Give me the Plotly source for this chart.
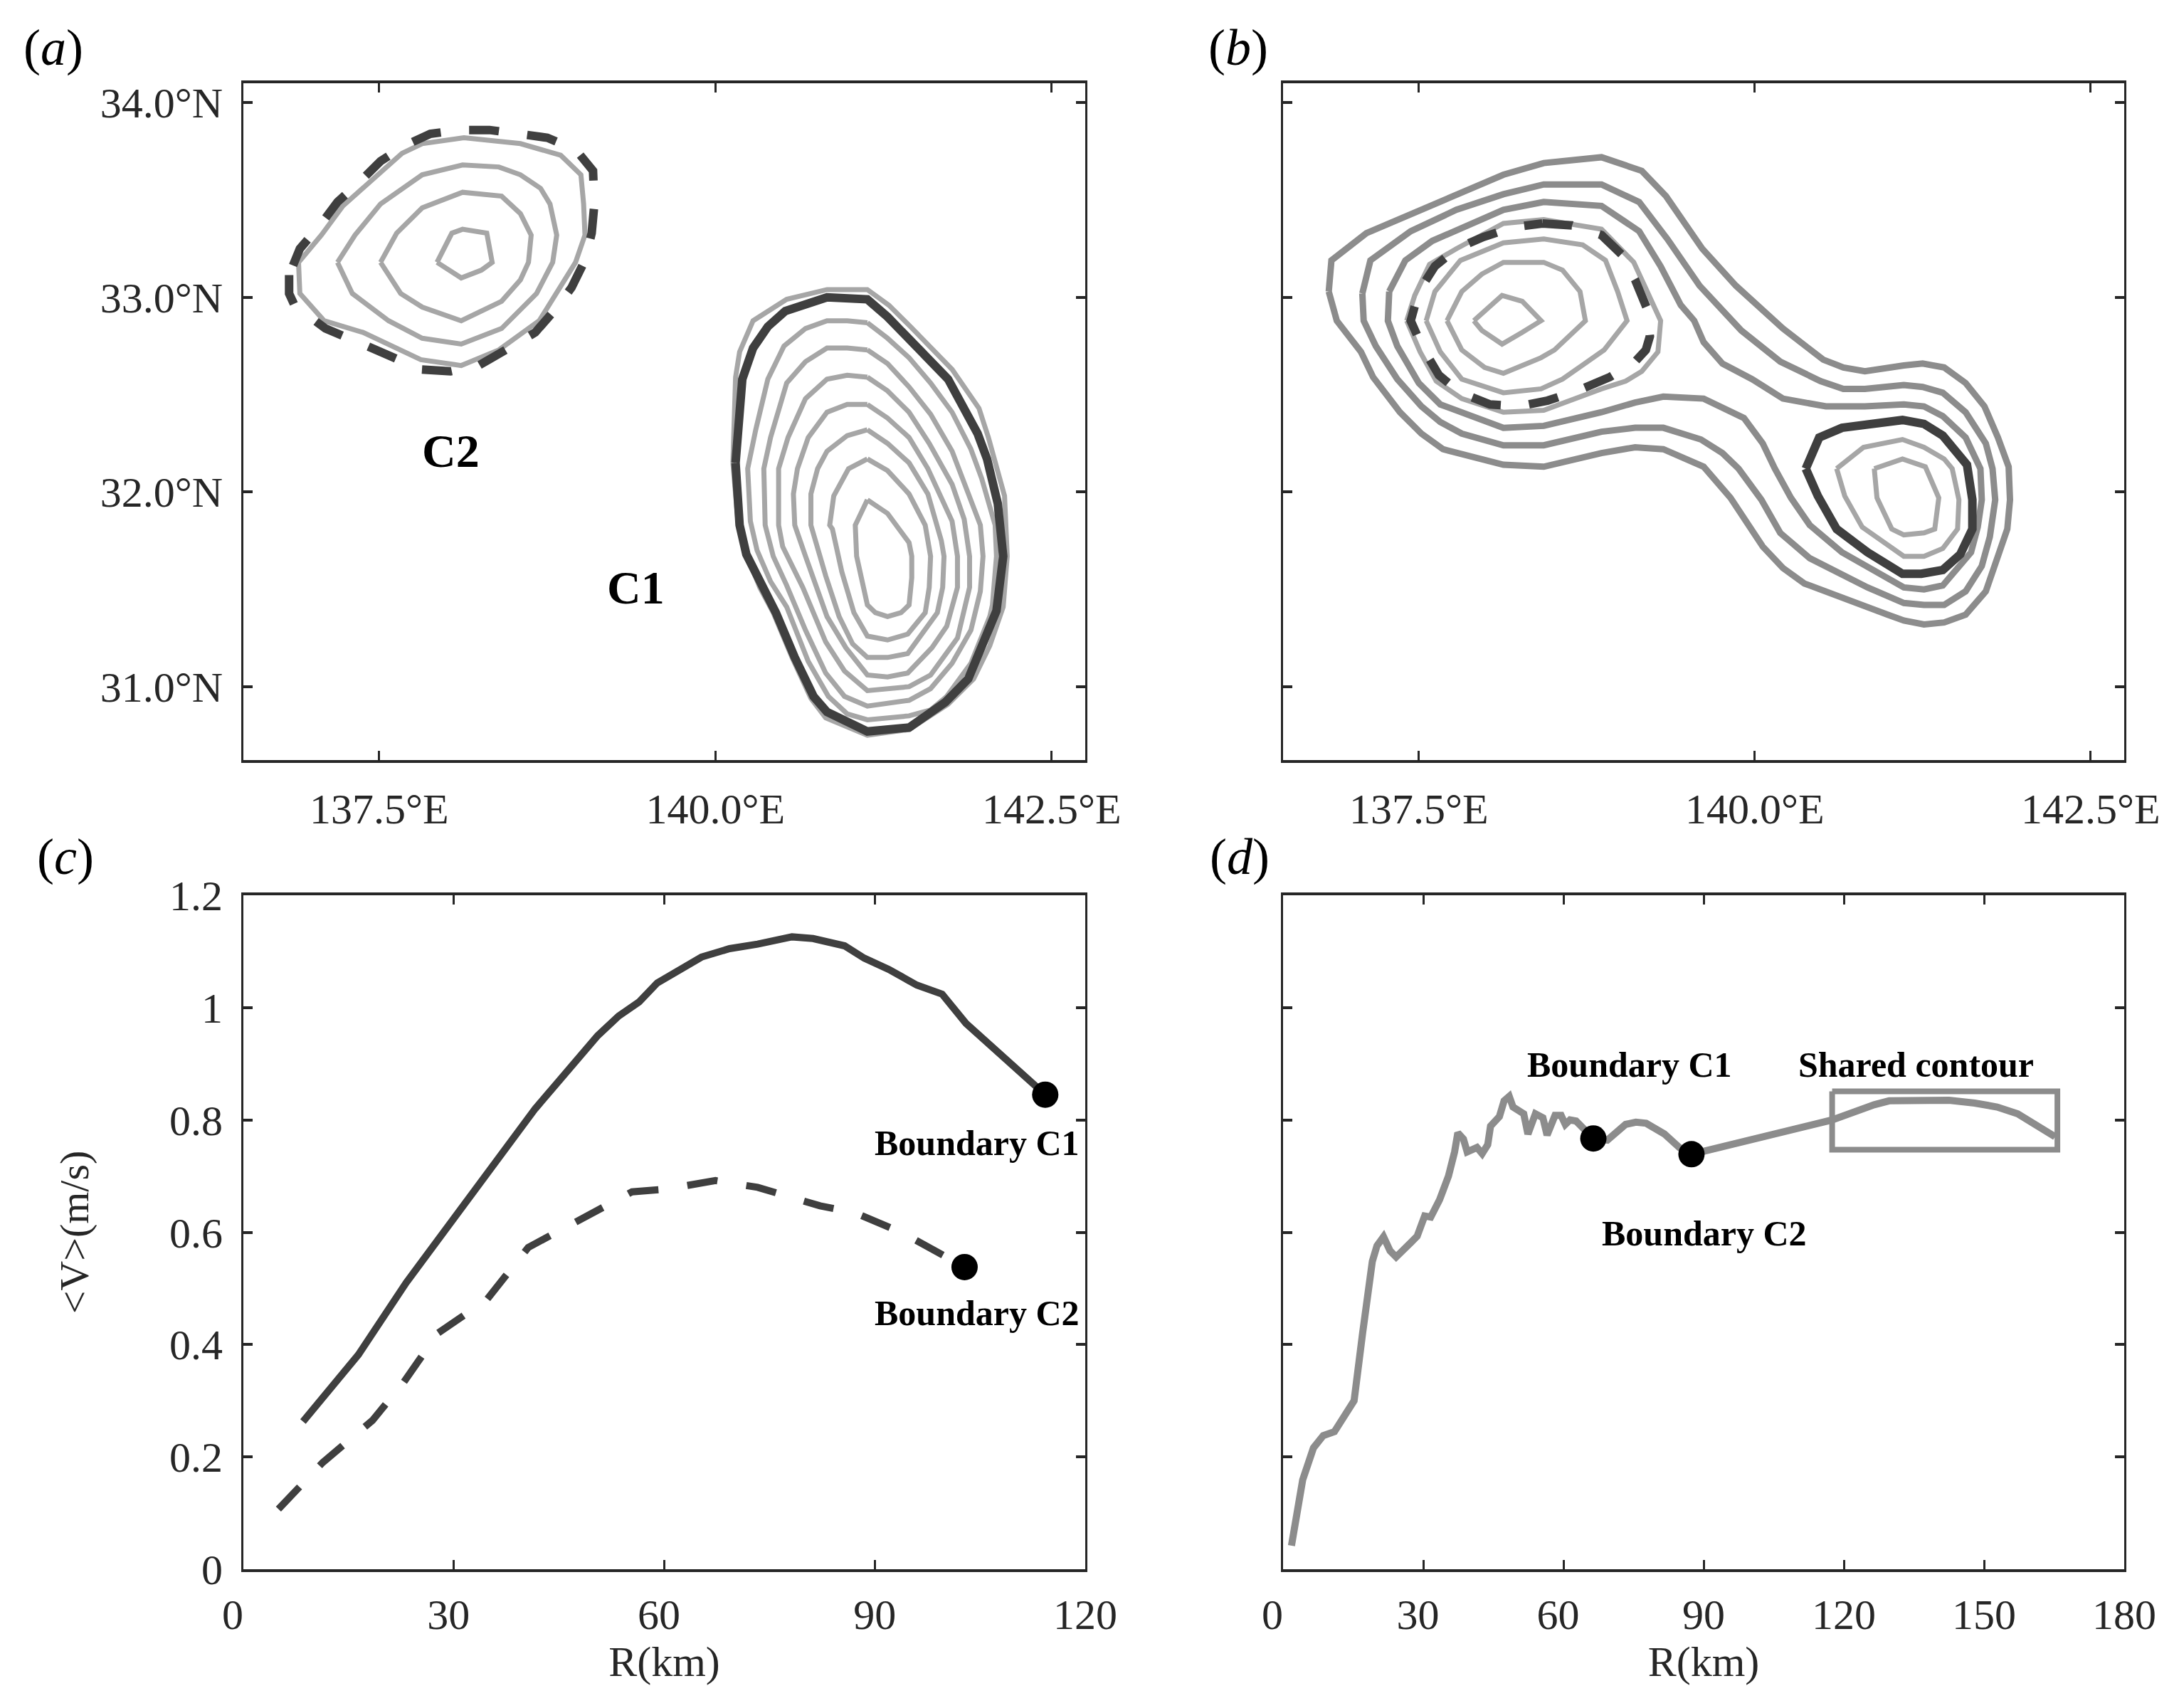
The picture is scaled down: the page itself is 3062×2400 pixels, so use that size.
import plotly.graph_objects as go

# ---- tick values / labels
lon_ticks = [137.5, 140.0, 142.5]
lon_labels = ["137.5\u00b0E", "140.0\u00b0E", "142.5\u00b0E"]
lat_ticks = [31, 32, 33, 34]
lat_labels = ["31.0\u00b0N", "32.0\u00b0N", "33.0\u00b0N", "34.0\u00b0N"]
v_ticks = [0, 0.2, 0.4, 0.6, 0.8, 1, 1.2]
v_labels = ["0", "0.2", "0.4", "0.6", "0.8", "1", "1.2"]
rc_ticks = [0, 30, 60, 90, 120]
rc_labels = ["0\u00a0\u00a0", "30\u00a0", "60\u00a0", "90", "120"]
rd_ticks = [0, 30, 60, 90, 120, 150, 180]
rd_labels = ["0\u00a0\u00a0", "30\u00a0", "60\u00a0", "90", "120", "150", "180"]

# ---- panel (a), C2 contours
a_c2_1_lon = [136.90,136.91,137.09,137.38,137.81,138.11,138.39,138.69,138.96,139.03,139.02,139.00,138.85,138.55,138.13,137.82,137.67,137.52,137.23,137.07,136.90]
a_c2_1_lat = [33.18,33.02,32.88,32.82,32.68,32.65,32.73,32.88,33.18,33.32,33.48,33.63,33.73,33.79,33.82,33.79,33.74,33.65,33.47,33.32,33.18]
a_c2_2_lon = [137.19,137.30,137.57,137.82,138.11,138.41,138.67,138.79,138.82,138.77,138.70,138.55,138.39,138.12,137.82,137.65,137.51,137.32,137.19]
a_c2_2_lat = [33.18,33.02,32.88,32.79,32.76,32.84,33.02,33.18,33.32,33.48,33.56,33.63,33.67,33.68,33.63,33.55,33.48,33.32,33.18]
a_c2_3_lon = [137.51,137.66,137.82,138.11,138.41,138.55,138.61,138.63,138.55,138.41,138.12,137.82,137.63,137.51]
a_c2_3_lat = [33.18,33.02,32.95,32.88,32.98,33.09,33.18,33.32,33.43,33.52,33.54,33.46,33.33,33.18]
a_c2_4_lon = [137.93,138.11,138.26,138.34,138.30,138.12,138.04,137.93]
a_c2_4_lat = [33.18,33.10,33.14,33.18,33.33,33.35,33.33,33.18]
a_c2_bd_lon = [136.83,136.83,136.87,137.10,137.41,137.81,138.03,138.24,138.44,138.66,138.80,138.93,139.03,139.08,139.10,139.09,138.96,138.75,138.54,138.32,138.10,137.88,137.69,137.51,137.35,137.19,137.06,136.91,136.83]
a_c2_bd_lat = [33.115,33.02,32.96,32.84,32.75,32.63,32.62,32.65,32.73,32.82,32.93,33.05,33.19,33.33,33.48,33.65,33.76,33.82,33.84,33.86,33.86,33.84,33.78,33.70,33.59,33.49,33.37,33.25,33.115]

# ---- panel (a), C1 contours
a_c1_o_lon = [140.13,140.15,140.18,140.28,140.53,140.83,141.13,141.29,141.45,141.76,141.96,142.03,142.15,142.17,142.14,142.04,141.92,141.73,141.44,141.13,140.82,140.71,140.57,140.43,140.33,140.22,140.17,140.13]
a_c1_o_lat = [32.15,32.59,32.72,32.88,32.99,33.04,33.04,32.96,32.85,32.63,32.43,32.28,31.98,31.67,31.41,31.21,31.04,30.91,30.78,30.75,30.84,30.94,31.15,31.38,31.51,31.70,31.83,32.15]
a_c1_7_lon = [141.13,141.28,141.44,141.60,141.76,141.90,141.98,142.08,142.09,142.06,142.04,141.90,141.72,141.60,141.44,141.13,140.98,140.84,140.69,140.53,140.41,140.31,140.26,140.24,140.30,140.39,140.51,140.67,140.83,140.98,141.13]
a_c1_7_lat = [32.87,32.79,32.69,32.56,32.41,32.22,32.07,31.83,31.67,31.42,31.36,31.12,30.95,30.88,30.85,30.83,30.86,30.95,31.13,31.41,31.54,31.70,31.85,32.12,32.32,32.58,32.75,32.84,32.88,32.88,32.87]
a_c1_6_lon = [141.13,141.28,141.44,141.60,141.76,141.90,141.97,141.99,141.97,141.90,141.76,141.60,141.44,141.13,140.96,140.82,140.67,140.53,140.43,140.37,140.36,140.41,140.53,140.67,140.83,140.98,141.13]
a_c1_6_lat = [32.73,32.66,32.54,32.40,32.21,31.96,31.83,31.67,31.49,31.29,31.12,30.99,30.93,30.90,30.95,31.07,31.29,31.52,31.67,31.83,32.12,32.28,32.56,32.67,32.74,32.74,32.73]
a_c1_5_lon = [141.13,141.28,141.44,141.59,141.76,141.85,141.89,141.89,141.80,141.60,141.44,141.13,140.96,140.82,140.65,140.50,140.47,140.47,140.54,140.67,140.83,140.98,141.13]
a_c1_5_lat = [32.59,32.52,32.41,32.25,32.04,31.86,31.67,31.51,31.25,31.06,31.00,30.98,31.08,31.23,31.51,31.72,31.83,32.12,32.28,32.48,32.58,32.60,32.59]
a_c1_4_lon = [141.13,141.28,141.44,141.58,141.76,141.80,141.80,141.72,141.61,141.43,141.28,141.13,140.97,140.83,140.67,140.59,140.58,140.61,140.69,140.83,140.98,141.13]
a_c1_4_lat = [32.45,32.38,32.28,32.12,31.85,31.67,31.51,31.31,31.20,31.07,31.05,31.06,31.20,31.36,31.67,31.83,31.99,32.12,32.28,32.41,32.45,32.45]
a_c1_3_lon = [141.13,141.28,141.44,141.58,141.68,141.70,141.69,141.65,141.43,141.28,141.13,141.02,140.92,140.82,140.71,140.71,140.76,140.83,140.98,141.13]
a_c1_3_lat = [32.32,32.25,32.15,31.99,31.75,31.67,31.51,31.38,31.17,31.15,31.15,31.22,31.36,31.57,31.83,31.99,32.12,32.21,32.29,32.32]
a_c1_2_lon = [141.13,141.28,141.44,141.56,141.60,141.59,141.56,141.43,141.28,141.13,141.03,140.94,140.87,140.85,140.88,140.99,141.13]
a_c1_2_lat = [32.17,32.11,31.99,31.83,31.67,31.51,31.38,31.27,31.24,31.26,31.38,31.59,31.81,31.83,31.98,32.12,32.17]
a_c1_1_lon = [141.13,141.28,141.44,141.46,141.46,141.44,141.38,141.28,141.19,141.13,141.05,141.04,141.13]
a_c1_1_lat = [31.96,31.89,31.74,31.67,31.56,31.42,31.38,31.36,31.38,31.42,31.67,31.83,31.96]
a_c1_bd_lon = [140.15,140.18,140.23,140.35,140.45,140.59,140.73,140.83,141.13,141.44,141.71,141.88,142.02,142.09,142.14,142.10,142.02,141.95,141.73,141.44,141.28,141.13,140.83,140.52,140.39,140.28,140.20,140.15]
a_c1_bd_lat = [32.15,31.83,31.68,31.51,31.38,31.15,30.95,30.87,30.77,30.79,30.92,31.04,31.26,31.39,31.67,31.94,32.17,32.30,32.58,32.79,32.90,32.99,33.00,32.93,32.85,32.74,32.58,32.15]

# ---- panel (b), shared contours
b_g1_lon = [136.83,136.85,137.11,137.38,137.78,138.13,138.43,138.86,139.16,139.34,139.61,139.86,140.21,140.51,140.66,140.82,141.11,141.25,141.41,141.57,141.71,141.81,141.89,141.90,141.88,141.81,141.72,141.57,141.41,141.26,141.11,140.99,140.67,140.37,140.21,140.06,139.82,139.62,139.32,139.11,138.86,138.43,138.13,137.68,137.52,137.36,137.16,137.07,136.89,136.83]
b_g1_lat = [33.03,33.19,33.33,33.41,33.52,33.63,33.69,33.72,33.65,33.52,33.25,33.06,32.84,32.68,32.64,32.62,32.65,32.66,32.64,32.56,32.44,32.28,32.13,31.96,31.81,31.66,31.49,31.37,31.33,31.32,31.34,31.37,31.45,31.53,31.61,31.72,31.97,32.13,32.22,32.23,32.20,32.13,32.14,32.22,32.30,32.41,32.59,32.72,32.88,33.03]
b_g2_lon = [137.08,137.14,137.44,137.78,138.13,138.43,138.86,139.14,139.35,139.59,139.90,140.19,140.49,140.66,140.82,141.11,141.25,141.40,141.57,141.72,141.77,141.79,141.75,141.69,141.57,141.41,141.26,141.11,140.84,140.41,140.19,140.05,139.88,139.76,139.60,139.32,139.11,138.86,138.43,138.13,137.82,137.66,137.52,137.34,137.18,137.09,137.08]
b_g2_lat = [33.02,33.19,33.34,33.45,33.53,33.58,33.58,33.49,33.30,33.06,32.83,32.67,32.57,32.53,32.53,32.55,32.54,32.51,32.41,32.25,32.12,31.96,31.77,31.62,31.49,31.42,31.42,31.43,31.51,31.66,31.79,31.96,32.12,32.20,32.27,32.33,32.33,32.31,32.24,32.24,32.30,32.36,32.44,32.58,32.75,32.88,33.02]
b_g3_lon = [137.28,137.40,137.60,138.13,138.43,138.86,139.14,139.30,139.45,139.55,139.62,139.76,139.98,140.21,140.53,140.82,141.11,141.26,141.40,141.57,141.68,141.69,141.66,141.61,141.40,141.26,141.11,140.65,140.41,140.27,140.15,140.06,139.92,139.62,139.32,139.11,138.86,138.43,138.13,137.66,137.50,137.34,137.27,137.28]
b_g3_lat = [33.03,33.19,33.29,33.45,33.49,33.47,33.34,33.16,32.96,32.88,32.77,32.66,32.58,32.48,32.44,32.44,32.45,32.44,32.39,32.28,32.12,31.96,31.82,31.69,31.52,31.50,31.51,31.69,31.83,31.97,32.12,32.25,32.38,32.48,32.49,32.46,32.41,32.34,32.33,32.45,32.56,32.75,32.88,33.03]

# ---- panel (b), C2 core contours
b_l1_lon = [137.41,137.47,137.58,137.78,138.13,138.43,138.86,139.10,139.30,139.28,139.16,139.04,138.86,138.43,138.13,137.82,137.63,137.51,137.41]
b_l1_lat = [32.88,33.01,33.17,33.25,33.38,33.40,33.35,33.18,32.88,32.72,32.62,32.57,32.53,32.42,32.41,32.48,32.57,32.72,32.88]
b_l2_lon = [137.555,137.62,137.81,138.13,138.43,138.72,138.89,138.98,139.05,138.88,138.57,138.41,138.13,137.82,137.66,137.555]
b_l2_lat = [32.88,33.03,33.19,33.28,33.30,33.27,33.19,33.03,32.88,32.73,32.58,32.53,32.51,32.58,32.72,32.88]
b_l3_lon = [137.71,137.82,137.97,138.13,138.43,138.57,138.70,138.74,138.51,138.41,138.13,137.99,137.82,137.71]
b_l3_lat = [32.88,33.03,33.12,33.18,33.18,33.14,33.03,32.88,32.73,32.69,32.61,32.64,32.73,32.88]
b_l4_lon = [137.91,138.12,138.27,138.41,138.27,138.12,137.97,137.91]
b_l4_lat = [32.88,33.01,32.98,32.88,32.82,32.76,32.83,32.88]
b_c2_bd_lon = [138.42,138.64,138.86,139.01,139.11,139.20,139.22,139.19,139.11,138.92,138.68,138.46,138.24,138.03,137.81,137.65,137.53,137.44,137.50,137.62,137.78,137.98,138.20,138.42]
b_c2_bd_lat = [33.38,33.37,33.32,33.22,33.09,32.94,32.80,32.73,32.67,32.59,32.52,32.47,32.44,32.45,32.51,32.60,32.74,32.88,33.03,33.16,33.25,33.31,33.36,33.38]

# ---- panel (b), C1 core contours
b_c1_bd_lon = [140.38,140.48,140.65,140.84,141.10,141.26,141.40,141.58,141.62,141.62,141.53,141.40,141.24,141.10,140.84,140.61,140.47,140.38]
b_c1_bd_lat = [32.12,32.28,32.33,32.35,32.37,32.35,32.29,32.14,31.96,31.81,31.68,31.60,31.58,31.58,31.69,31.81,31.98,32.12]
b_l5_lon = [140.61,140.81,141.10,141.26,141.41,141.47,141.52,141.51,141.40,141.26,141.11,140.80,140.67,140.61]
b_l5_lat = [32.12,32.23,32.27,32.23,32.17,32.12,31.96,31.81,31.71,31.67,31.67,31.82,31.98,32.12]
b_l6_lon = [140.89,141.10,141.27,141.37,141.34,141.26,141.11,141.02,140.91,140.89]
b_l6_lat = [32.12,32.17,32.13,31.97,31.81,31.79,31.78,31.81,31.97,32.12]

# ---- panel (c)
c_c1_r = [8.5,16.4,23.2,31.7,41.6,50.5,53.5,56.4,59,65.3,69.3,73.3,78.2,81.2,85.7,88.5,92,96,99.6,103,114.3]
c_c1_v = [.263,.382,.51,.655,.82,.95,.985,1.01,1.044,1.09,1.105,1.113,1.126,1.123,1.11,1.088,1.068,1.04,1.024,.972,.845]
c_c2_r = [5,11.3,18.4,22.8,27.7,34.7,40.6,44.6,50.5,55.4,60.4,67.3,73.3,82.2,87.1,94.1,102.8]
c_c2_v = [.107,.19,.265,.332,.42,.48,.573,.6,.642,.672,.677,.692,.68,.647,.635,.598,.538]
c_dot_r = [114.3, 102.8]
c_dot_v = [.845, .538]

# ---- panel (d)
d_r = [1.8,4.2,6.5,8.6,11,12.5,15.2,17,18.1,19.1,20.1,21.5,22.9,24.2,27.4,28.7,30.3,31.6,33.5,35.4,36.7,37.4,38.6,39.4,41.5,42.6,43.8,44.4,46.3,47.3,48.4,49.2,51.5,52.4,54,55.6,56.5,58.2,59.5,60.4,61.4,62.7,66.4,69.4,73.3,75.5,77.7,81.6,84.8,87.4,117.5,120,123.3,126.5,129.7,133.5,142.5,148,152.8,157.2,165.2]
d_v = [.042,.159,.216,.238,.245,.265,.30,.419,.489,.548,.576,.592,.567,.556,.582,.593,.629,.627,.658,.70,.743,.777,.766,.743,.751,.74,.756,.789,.806,.834,.842,.823,.811,.775,.811,.804,.773,.808,.808,.792,.80,.798,.767,.764,.792,.796,.794,.775,.751,.739,.80,.808,.819,.827,.834,.835,.835,.830,.823,.811,.77]
d_dot_r = [66.4, 87.4]
d_dot_v = [.767, .739]
box_r = [117.5, 165.7, 165.7, 117.5, 117.5]
box_v = [.851, .851, .747, .747, .851]

DARK = "#3f3f3f"
MID = "#8c8c8c"
LIGHT = "#a6a6a6"
AXC = "#262626"
FONT = "Liberation Serif"

W, H = 3062, 2400
def xd(a, b): return [a / W, b / W]
def yd(top, bot): return [1 - bot / H, 1 - top / H]

fig = go.Figure()

def line(ax, x, y, color, width, dash=None):
    fig.add_trace(go.Scatter(x=x, y=y, xaxis="x" + ax, yaxis="y" + ax, mode="lines",
                             line=dict(color=color, width=width, dash=dash), showlegend=False,
                             hoverinfo="skip"))

def dots(ax, x, y):
    fig.add_trace(go.Scatter(x=x, y=y, xaxis="x" + ax, yaxis="y" + ax, mode="markers",
                             marker=dict(color="black", size=37), showlegend=False, hoverinfo="skip"))

for lo, la in [(a_c2_1_lon, a_c2_1_lat), (a_c2_2_lon, a_c2_2_lat), (a_c2_3_lon, a_c2_3_lat), (a_c2_4_lon, a_c2_4_lat),
               (a_c1_o_lon, a_c1_o_lat), (a_c1_7_lon, a_c1_7_lat), (a_c1_6_lon, a_c1_6_lat), (a_c1_5_lon, a_c1_5_lat),
               (a_c1_4_lon, a_c1_4_lat), (a_c1_3_lon, a_c1_3_lat), (a_c1_2_lon, a_c1_2_lat), (a_c1_1_lon, a_c1_1_lat)]:
    line("", lo, la, LIGHT, 7)
line("", a_c1_bd_lon, a_c1_bd_lat, DARK, 12)
line("", a_c2_bd_lon, a_c2_bd_lat, DARK, 12, "42px,40px")

for lo, la in [(b_g1_lon, b_g1_lat), (b_g2_lon, b_g2_lat), (b_g3_lon, b_g3_lat)]:
    line("2", lo, la, MID, 9)
for lo, la in [(b_l1_lon, b_l1_lat), (b_l2_lon, b_l2_lat), (b_l3_lon, b_l3_lat), (b_l4_lon, b_l4_lat),
               (b_l5_lon, b_l5_lat), (b_l6_lon, b_l6_lat)]:
    line("2", lo, la, LIGHT, 7)
line("2", b_c1_bd_lon, b_c1_bd_lat, DARK, 12)
line("2", b_c2_bd_lon, b_c2_bd_lat, DARK, 12, "42px,40px")

line("3", c_c1_r, c_c1_v, DARK, 10)
line("3", c_c2_r, c_c2_v, DARK, 10, "43px,41px")
dots("3", c_dot_r, c_dot_v)

line("4", d_r, d_v, MID, 10)
line("4", box_r, box_v, MID, 8)
dots("4", d_dot_r, d_dot_v)

base = dict(showline=True, linecolor=AXC, mirror="ticks", ticks="inside", ticklen=13,
            tickcolor=AXC, showgrid=False, zeroline=False, automargin=False,
            tickfont=dict(family=FONT, size=60, color=AXC))
xax = dict(base, linewidth=4, tickwidth=2.5)
yax = dict(base, linewidth=3, tickwidth=4)
title_font = dict(family=FONT, size=60, color=AXC)
lon_rng = [136.49, 142.75]
lat_rng = [30.623, 34.10]
fig.update_layout(
    width=W, height=H, margin=dict(l=0, r=0, t=0, b=0), autosize=False,
    paper_bgcolor="white", plot_bgcolor="white", showlegend=False,
    xaxis=dict(xax, domain=xd(342, 1525), range=lon_rng, tickvals=lon_ticks, ticktext=lon_labels, anchor="y", ticklabelstandoff=13),
    yaxis=dict(yax, domain=yd(117, 1068), range=lat_rng, tickvals=lat_ticks, ticktext=lat_labels, anchor="x", ticklabelstandoff=14),
    xaxis2=dict(xax, domain=xd(1803, 2985), range=lon_rng, tickvals=lon_ticks, ticktext=lon_labels, anchor="y2", ticklabelstandoff=13),
    yaxis2=dict(yax, domain=yd(117, 1068), range=lat_rng, tickvals=lat_ticks, showticklabels=False, anchor="x2"),
    xaxis3=dict(xax, domain=xd(342, 1525), range=[0, 120], tickvals=rc_ticks, ticktext=rc_labels, anchor="y3", ticklabelstandoff=8,
                title=dict(text="R(km)", font=title_font, standoff=12)),
    yaxis3=dict(yax, domain=yd(1258, 2205), range=[0, 1.2], tickvals=v_ticks, ticktext=v_labels, anchor="x3", ticklabelstandoff=14,
                title=dict(text="&lt;V&gt;(m/s)", font=dict(family=FONT, size=58, color=AXC), standoff=95)),
    xaxis4=dict(xax, domain=xd(1803, 2985), range=[0, 180], tickvals=rd_ticks, ticktext=rd_labels, anchor="y4", ticklabelstandoff=8,
                title=dict(text="R(km)", font=title_font, standoff=12)),
    yaxis4=dict(yax, domain=yd(1258, 2205), range=[0, 1.2], tickvals=v_ticks, showticklabels=False, anchor="x4"),
)

def label(text, x, y, ax="", size=50):
    fig.add_annotation(text="<b>%s</b>" % text, x=x, y=y, xref="x" + ax, yref="y" + ax, showarrow=False,
                       xanchor="center", yanchor="middle",
                       font=dict(family=FONT, size=size, color="black"))

label("C2", 138.03, 32.21, "", 66)
label("C1", 139.41, 31.51, "", 66)
label("Boundary C1", 104.6, .759, "3")
label("Boundary C2", 104.6, .456, "3")
label("Boundary C1", 74.1, .898, "4")
label("Boundary C2", 90.2, .598, "4")
label("Shared contour", 135.4, .898, "4")

for t, px, py in [("a", 75, 67), ("b", 1740, 67), ("c", 92, 1204), ("d", 1742, 1204)]:
    fig.add_annotation(text="(<i>%s</i>)" % t, x=px / W, y=1 - py / H, xref="paper", yref="paper", showarrow=False,
                       xanchor="center", yanchor="middle",
                       font=dict(family=FONT, size=72, color="black"))

fig.write_html("out.html", config=dict(displayModeBar=False),
               post_script="document.body.style.margin='0';")
